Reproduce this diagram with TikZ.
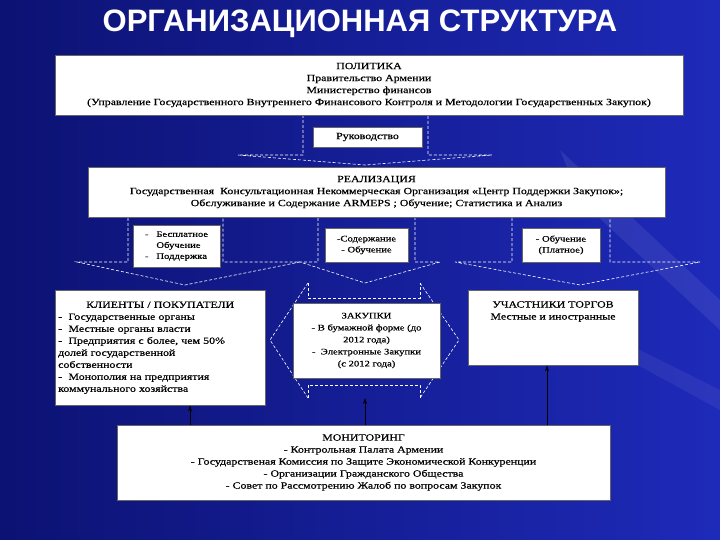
\documentclass[tikz,border=0pt]{standalone}
\usepackage{fontspec}
\usetikzlibrary{arrows.meta}
\setmainfont{Liberation Serif}
\newfontfamily\titlefont{Liberation Sans}
\newfontfamily\rf[FakeStretch=1.25,FakeBold=0.6]{Liberation Serif}
\begin{document}
\begin{tikzpicture}[x=1pt,y=-1pt,
  box/.style={draw=black!60,fill=white,inner sep=2pt,font=\rf\fontsize{9.5}{12}\selectfont},
  dsh/.style={draw=white,dash pattern=on 3pt off 2pt,line width=0.6pt},
  up/.style={-{Stealth[length=6pt,width=4pt]},draw=black,line width=0.9pt}]
\useasboundingbox (0,0) rectangle (720,540);
\shade[left color={rgb,255:red,12;green,18;blue,115},right color={rgb,255:red,30;green,42;blue,185}] (0,0) rectangle (720,540);
\fill[white,opacity=0.08] (560,150) -- (720,300) -- (720,330) -- (580,200) -- cycle;
\fill[white,opacity=0.06] (600,330) -- (720,390) -- (720,410) -- (610,350) -- cycle;
\node[text=white,font=\titlefont\bfseries\fontsize{31}{34}\selectfont] (title) at (360,24) {ОРГАНИЗАЦИОННАЯ СТРУКТУРА};
% dashed arrows
\draw[dsh] (303,115) -- (303,155) -- (238,155) -- (365,165) -- (492,155) -- (428,155) -- (428,115);
\draw[dsh] (128,218) -- (128,262) -- (77,262) -- (185,285) -- (300,262) -- (223,262) -- (223,218);
\draw[dsh] (318,218) -- (318,262) -- (300,262) -- (365,283) -- (440,262) -- (415,262) -- (415,218);
\draw[dsh] (512,218) -- (512,262) -- (455,262) -- (580,285) -- (700,262) -- (610,262) -- (610,218);
\draw[dsh] (308,283) -- (270,340) -- (308,398);
\draw[dsh] (420,283) -- (459,340) -- (420,398);
\draw[dsh] (308,283) -- (308,298) -- (420,298) -- (420,283);
\draw[dsh] (308,398) -- (308,385) -- (420,385) -- (420,398);
% boxes
\node[box,minimum width=628,minimum height=60,align=center] (pol) at (369,85) {ПОЛИТИКА\\Правительство Армении\\Министерство финансов\\(Управление Государственного Внутреннего Финансового Контроля и Методологии Государственных Закупок)};
\node[box,minimum width=109,minimum height=20] (ruk) at (367.5,137) {Руководство};
\node[box,minimum width=577,minimum height=50,align=center] (real) at (376.5,192) {РЕАЛИЗАЦИЯ\\Государственная~ Консультационная Некоммерческая Организация «Центр Поддержки Закупок»;\\Обслуживание и Содержание ARMEPS ; Обучение; Статистика и Анализ};
\node[box,minimum width=87,minimum height=42,align=left,font=\rf\fontsize{8.5}{11}\selectfont] (s1) at (176.5,246) {-~~ Бесплатное\\\phantom{-~~ }Обучение\\-~~ Поддержка};
\node[box,minimum width=83,minimum height=34,align=center,font=\rf\fontsize{8.5}{11}\selectfont] (s2) at (366.5,245) {-Содержание\\- Обучение};
\node[box,minimum width=78,minimum height=34,align=center,font=\rf\fontsize{8.5}{11}\selectfont] (s3) at (561,245) {- Обучение\\(Платное)};
\node[box,minimum width=210,minimum height=115,align=left,anchor=north west,text width=204] (cli) at (55,290) {\makebox[204pt][c]{КЛИЕНТЫ / ПОКУПАТЕЛИ}\\-~ Государственные органы\\-~ Местные органы власти\\-~ Предприятия с более, чем 50\%\\долей государственной\\собственности\\-~ Монополия на предприятия\\коммунального хозяйства};
\node[box,minimum width=147,minimum height=75,align=center,font=\rf\fontsize{8.5}{12}\selectfont] (zak) at (366.5,340.5) {ЗАКУПКИ\\- В бумажной форме (до\\2012 года)\\-~ Электронные Закупки\\(с 2012 года)};
\node[box,minimum width=170,minimum height=75,anchor=north] (uch) at (553,290) {};
\node[font=\rf\fontsize{9.5}{12}\selectfont,align=center,anchor=north] (uchT) at (uch.north) {\rule{0pt}{14pt}УЧАСТНИКИ ТОРГОВ\\Местные и иностранные};
\node[box,minimum width=493,minimum height=75,align=center] (mon) at (363.5,462.5) {МОНИТОРИНГ\\- Контрольная Палата Армении\\- Государственая Комиссия по Защите Экономической Конкуренции\\- Организации Гражданского Общества\\- Совет по Рассмотрению Жалоб по вопросам Закупок};
\coordinate (hexb) at (365,398);
\draw[up] (mon.north -| 190,0) -- (cli.south -| 190,0);
\draw[up] (mon.north -| hexb) -- (hexb);
\draw[up] (mon.north -| 547,0) -- (uch.south -| 547,0);
\end{tikzpicture}
\end{document}
